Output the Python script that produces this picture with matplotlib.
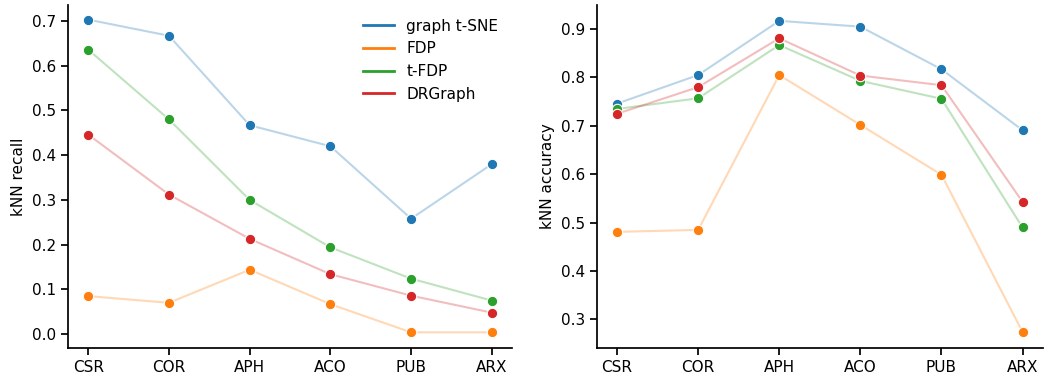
import numpy as np
import matplotlib.pyplot as plt

datasets = ["CSR", "COR", "APH", "ACO", "PUB", "ARX"]
methods = ["graph t-SNE", "FDP", "t-FDP", "DRGraph"]
colors = ["#1f77b4", "#ff7f0e", "#2ca02c", "#d62728"]

# kNN recall per method
recall_tsne = [0.703, 0.667, 0.467, 0.420, 0.258, 0.380]
recall_fdp = [0.085, 0.070, 0.144, 0.067, 0.004, 0.004]
recall_tfdp = [0.636, 0.480, 0.300, 0.194, 0.124, 0.075]
recall_drgraph = [0.446, 0.312, 0.213, 0.134, 0.086, 0.048]

# kNN accuracy per method
acc_tsne = [0.746, 0.805, 0.917, 0.905, 0.817, 0.691]
acc_fdp = [0.481, 0.485, 0.805, 0.702, 0.599, 0.274]
acc_tfdp = [0.735, 0.757, 0.867, 0.793, 0.756, 0.490]
acc_drgraph = [0.725, 0.780, 0.881, 0.804, 0.784, 0.543]

recall = [recall_tsne, recall_fdp, recall_tfdp, recall_drgraph]
accuracy = [acc_tsne, acc_fdp, acc_tfdp, acc_drgraph]


def draw_panel(ax, values, ylabel):
    x = np.arange(len(datasets))
    for vals, color in zip(values, colors):
        ax.plot(x, vals, color=color, alpha=0.3, lw=1.5)
        ax.plot(x, vals, 'o', color=color, ms=7.5, mec='white', mew=0.8)
    ax.set_xticks(x)
    ax.set_xticklabels(datasets)
    ax.set_xlim(-0.25, 5.25)
    ax.set_ylabel(ylabel, fontsize=11)
    ax.tick_params(labelsize=11, width=1.25, length=5)
    for side in ['left', 'bottom']:
        ax.spines[side].set_linewidth(1.25)
    ax.spines['top'].set_visible(False)
    ax.spines['right'].set_visible(False)


fig = plt.figure(figsize=(10.47, 3.75), dpi=100)
ax1 = fig.add_axes([0.065, 0.072, 0.424, 0.915])
ax2 = fig.add_axes([0.570, 0.072, 0.426, 0.915])

draw_panel(ax1, recall, "kNN recall")
ax1.set_ylim(-0.031, 0.736)
ax1.set_yticks(np.arange(0, 0.71, 0.1))

draw_panel(ax2, accuracy, "kNN accuracy")
ax2.set_ylim(0.241, 0.95)
ax2.set_yticks(np.arange(0.3, 0.91, 0.1))

handles = [plt.Line2D([], [], color=c, lw=2) for c in colors]
ax1.legend(handles, methods, loc='upper right', frameon=False, fontsize=11,
           bbox_to_anchor=(1.0, 1.0))

fig.savefig("out.png", dpi=100)
